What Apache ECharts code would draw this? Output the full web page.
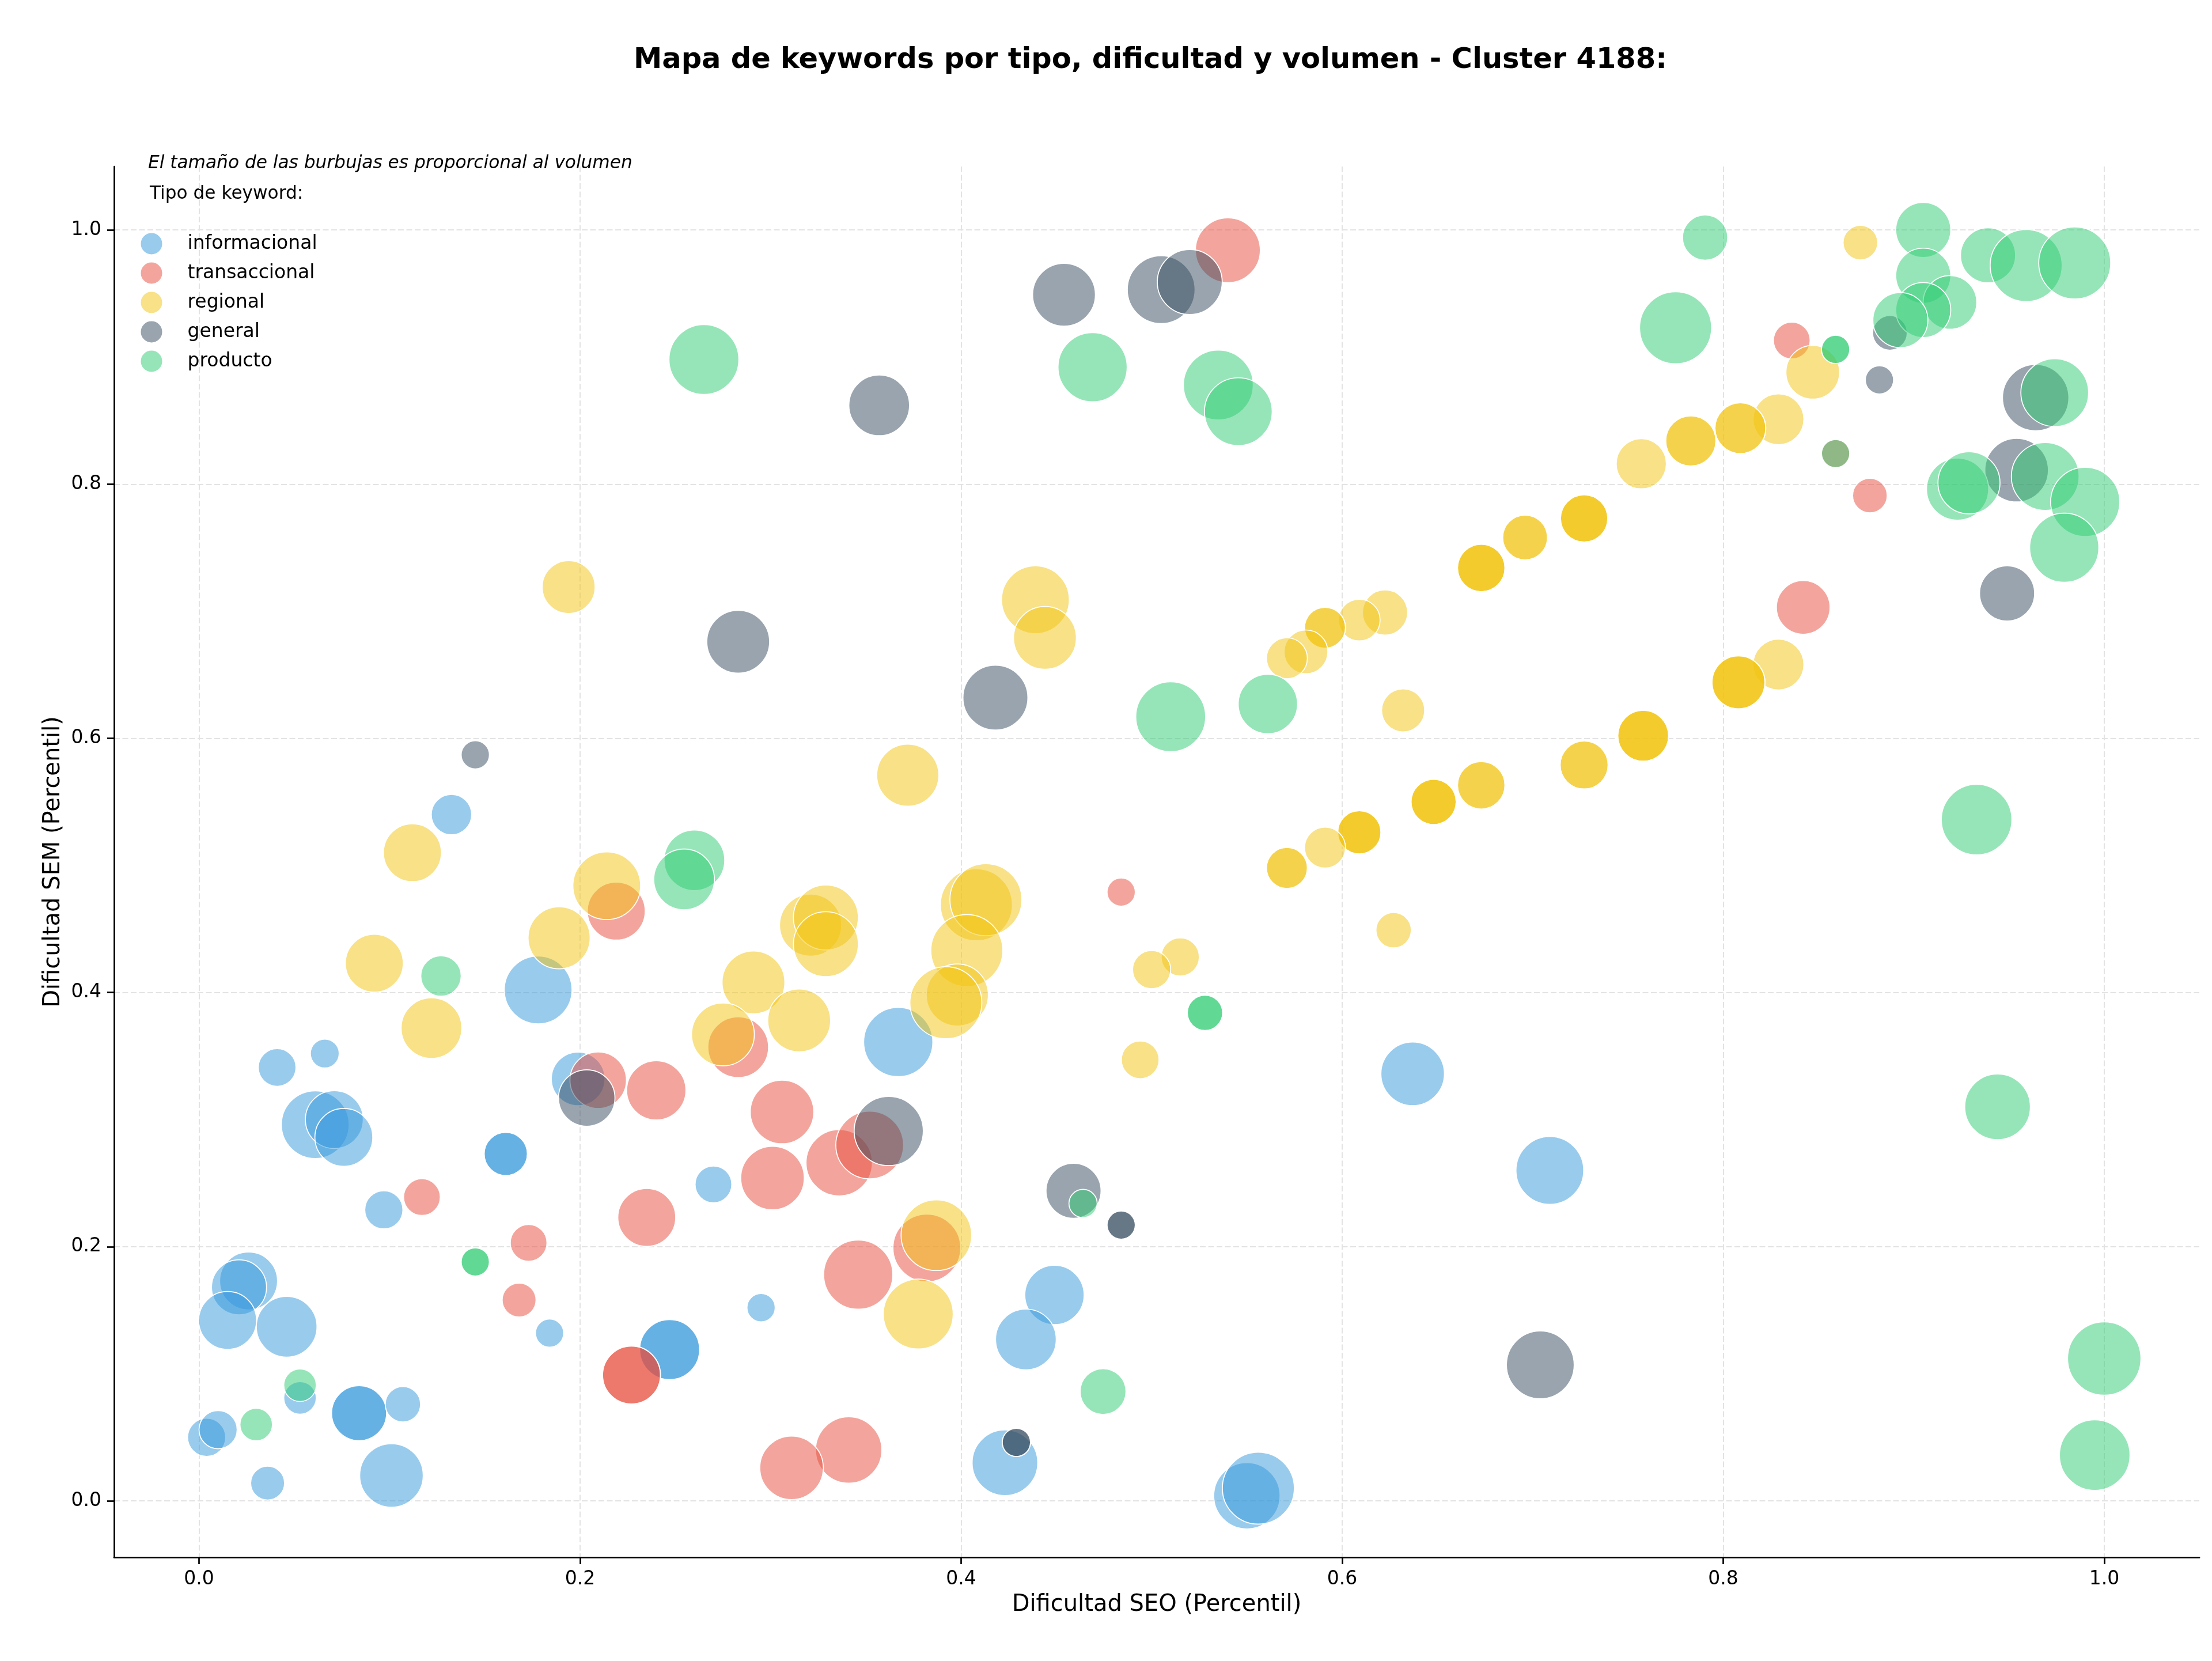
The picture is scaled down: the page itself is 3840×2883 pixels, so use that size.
<!DOCTYPE html>
<html>
<head>
<meta charset="utf-8">
<script src="https://cdn.jsdelivr.net/npm/echarts/dist/echarts.min.js"></script>
<style>
html,body{margin:0;padding:0;background:#fff;}
#chart{width:3840px;height:2883px;}
</style>
</head>
<body>
<div id="chart"></div>
<script>
// Each point: [Dificultad SEO (percentil), Dificultad SEM (percentil), volumen]
const informacional = [
  [0.637,0.336,1094],[0.709,0.260,1244],[0.367,0.361,1297],[0.178,0.402,1244],
  [0.1325,0.540,442],[0.041,0.341,385],[0.066,0.352,225],[0.199,0.332,780],
  [0.061,0.296,1244],[0.071,0.300,908],[0.076,0.286,908],[0.161,0.273,506],
  [0.161,0.273,506],[0.097,0.229,394],[0.270,0.249,365],[0.184,0.132,216],
  [0.247,0.119,975],[0.247,0.119,975],[0.295,0.152,216],[0.026,0.173,908],
  [0.021,0.168,821],[0.015,0.142,908],[0.046,0.137,998],[0.053,0.081,286],
  [0.004,0.050,394],[0.010,0.056,394],[0.084,0.069,821],[0.084,0.069,821],
  [0.107,0.076,338],[0.036,0.014,311],[0.101,0.020,1094],[0.449,0.162,953],
  [0.434,0.127,998],[0.423,0.030,1168],[0.550,0.004,1193],[0.556,0.010,1405]
];
const transaccional = [
  [0.540,0.984,1143],[0.836,0.913,365],[0.859,0.824,216],[0.877,0.791,324],
  [0.842,0.703,780],[0.484,0.479,216],[0.219,0.464,908],[0.283,0.357,998],
  [0.2095,0.331,864],[0.240,0.323,953],[0.306,0.306,1094],[0.301,0.254,1094],
  [0.336,0.266,1193],[0.352,0.280,1244],[0.117,0.239,365],[0.173,0.203,365],
  [0.168,0.158,311],[0.235,0.223,908],[0.227,0.099,908],[0.227,0.099,908],
  [0.346,0.178,1297],[0.382,0.199,1244],[0.341,0.040,1193],[0.311,0.026,1094]
];
const regional = [
  [0.872,0.990,324],[0.847,0.888,780],[0.829,0.851,700],[0.809,0.844,700],
  [0.809,0.844,700],[0.783,0.834,681],[0.783,0.834,681],[0.757,0.816,681],
  [0.727,0.773,606],[0.727,0.773,606],[0.727,0.773,606],[0.696,0.758,543],
  [0.696,0.758,543],[0.673,0.734,610],[0.673,0.734,610],[0.673,0.734,610],
  [0.6225,0.699,553],[0.609,0.693,470],[0.591,0.687,454],[0.591,0.687,454],
  [0.581,0.668,519],[0.571,0.663,454],[0.632,0.622,502],[0.829,0.658,700],
  [0.808,0.644,759],[0.808,0.644,759],[0.808,0.644,759],[0.758,0.602,700],
  [0.758,0.602,700],[0.758,0.602,700],[0.727,0.579,624],[0.727,0.579,624],
  [0.673,0.563,610],[0.673,0.563,610],[0.648,0.550,553],[0.648,0.550,553],
  [0.648,0.550,553],[0.609,0.526,506],[0.609,0.526,506],[0.609,0.526,506],
  [0.591,0.514,454],[0.571,0.498,454],[0.571,0.498,454],[0.627,0.449,338],
  [0.515,0.428,394],[0.500,0.418,394],[0.494,0.347,385],[0.439,0.709,1244],
  [0.444,0.679,1069],[0.372,0.571,1045],[0.194,0.719,759],[0.112,0.510,908],
  [0.214,0.484,1244],[0.189,0.443,1045],[0.092,0.423,908],[0.122,0.372,998],
  [0.291,0.408,1069],[0.275,0.367,1069],[0.315,0.378,1069],[0.321,0.453,1045],
  [0.329,0.459,1143],[0.329,0.438,1143],[0.408,0.469,1405],[0.413,0.473,1405],
  [0.403,0.433,1405],[0.398,0.398,1045],[0.392,0.392,1405],[0.387,0.209,1350],
  [0.3775,0.147,1323]
];
const general = [
  [0.454,0.949,1069],[0.505,0.953,1244],[0.520,0.959,1143],[0.357,0.862,998],
  [0.283,0.676,1069],[0.418,0.632,1143],[0.145,0.587,216],[0.2035,0.317,864],
  [0.362,0.291,1297],[0.459,0.244,821],[0.484,0.217,216],[0.484,0.217,216],
  [0.429,0.046,216],[0.429,0.046,216],[0.704,0.107,1244],[0.949,0.714,821],
  [0.954,0.811,1094],[0.964,0.868,1193],[0.882,0.882,216],[0.8875,0.919,324]
];
const producto = [
  [0.7905,0.994,553],[0.905,1.000,821],[0.939,0.980,821],[0.959,0.972,1405],
  [0.9845,0.974,1405],[0.905,0.964,821],[0.919,0.943,780],[0.905,0.937,821],
  [0.893,0.929,821],[0.859,0.906,216],[0.859,0.906,216],[0.775,0.923,1405],
  [0.859,0.824,216],[0.923,0.796,1045],[0.929,0.801,1045],[0.969,0.806,1244],
  [0.990,0.786,1297],[0.979,0.750,1297],[0.974,0.872,1244],[0.933,0.536,1350],
  [0.944,0.310,1168],[1.000,0.112,1460],[0.995,0.036,1350],[0.469,0.892,1297],
  [0.535,0.878,1323],[0.5455,0.857,1244],[0.265,0.898,1323],[0.510,0.617,1323],
  [0.561,0.627,953],[0.260,0.504,998],[0.2546,0.489,998],[0.127,0.413,442],
  [0.528,0.384,338],[0.528,0.384,338],[0.464,0.234,216],[0.4745,0.086,570],
  [0.145,0.188,216],[0.145,0.188,216],[0.053,0.091,286],[0.030,0.060,286]
];
const tipos = ['informacional','transaccional','regional','general','producto'];
const colores = ['rgba(52,152,219,0.5)','rgba(231,76,60,0.5)','rgba(241,196,15,0.5)','rgba(52,73,94,0.5)','rgba(46,204,113,0.5)'];
const seriesData = [informacional, transaccional, regional, general, producto];
const xTicks = [0, 0.2, 0.4, 0.6, 0.8, 1.0];
const yTicks = [0, 0.2, 0.4, 0.6, 0.8, 1.0];
const titulo = 'Mapa de keywords por tipo, dificultad y volumen - Cluster 4188:';
const nota = 'El tamaño de las burbujas es proporcional al volumen';
const tituloLeyenda = 'Tipo de keyword:';

const FONT = '"DejaVu Sans", "Liberation Sans", sans-serif';
const chart = echarts.init(document.getElementById('chart'), null, {renderer: 'canvas', width: 3840, height: 2883});

function axisCommon(ticks) {
  return {
    type: 'value',
    axisLine: {show: true, onZero: false, lineStyle: {color: '#000', width: 2.7}},
    axisTick: {show: true, inside: false, length: 12, lineStyle: {color: '#000', width: 2.7}, customValues: ticks},
    axisLabel: {show: true, customValues: ticks, formatter: v => Number(v).toFixed(1), fontSize: 33, color: '#000', fontFamily: FONT, margin: 22},
    splitLine: {show: true, lineStyle: {color: '#e3e3e3', width: 2, type: [10, 4.5]}},
    nameLocation: 'middle',
    nameTextStyle: {fontSize: 40, color: '#000', fontFamily: FONT}
  };
}

const legendText = {fontSize: 33, color: '#000', fontFamily: FONT, lineHeight: 39, padding: [0, 0, 0, 38]};

const option = {
  backgroundColor: '#fff',
  animation: false,
  textStyle: {fontFamily: FONT},
  grid: {left: 198, top: 289, width: 3620, height: 2414, containLabel: false},
  xAxis: Object.assign(axisCommon(xTicks), {min: -0.0446, max: 1.0499, name: 'Dificultad SEO (Percentil)', nameGap: 63}),
  yAxis: Object.assign(axisCommon(yTicks), {min: -0.0444, max: 1.0499, name: 'Dificultad SEM (Percentil)', nameGap: 85}),
  legend: {
    orient: 'vertical', left: 242.5, top: 402.5, padding: 0, itemWidth: 39, itemHeight: 39, itemGap: 10,
    icon: 'circle',
    data: tipos.map(n => ({name: n, textStyle: legendText})),
    textStyle: legendText
  },
  graphic: [
    {type: 'text', x: 1997, y: 105, style: {text: titulo, fontSize: 49.5, fontWeight: 'bold', fontFamily: FONT, fill: '#000', align: 'center', verticalAlign: 'middle'}},
    {type: 'text', x: 257, y: 284, style: {text: nota, fontSize: 31.2, fontStyle: 'italic', fontFamily: FONT, fill: '#000', align: 'left', verticalAlign: 'middle'}},
    {type: 'text', x: 260, y: 337, style: {text: tituloLeyenda, fontSize: 31.2, fontFamily: FONT, fill: '#000', align: 'left', verticalAlign: 'middle'}}
  ],
  series: tipos.map((t, i) => ({
    name: t,
    type: 'scatter',
    data: seriesData[i],
    symbol: 'circle',
    symbolSize: v => Math.sqrt(v[2]) * 3.333,
    itemStyle: {color: colores[i], borderColor: '#ffffff', borderWidth: 1.7, opacity: 1},
    emphasis: {disabled: true}
  }))
};
chart.setOption(option);
</script>
</body>
</html>
